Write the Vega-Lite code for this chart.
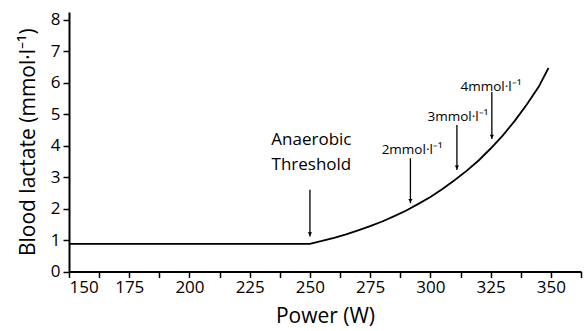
{
  "$schema": "https://vega.github.io/schema/vega-lite/v6.json",
  "width": 512,
  "height": 259.5,
  "autosize": {"type": "none"},
  "padding": {"left": 69, "top": 12, "right": 3, "bottom": 60},
  "config": {
    "view": {"stroke": null},
    "font": "Open Sans",
    "axis": {
      "grid": false,
      "domainColor": "#000",
      "domainWidth": 2,
      "tickColor": "#000",
      "tickWidth": 1.5,
      "tickSize": 6,
      "labelColor": "#000",
      "titleColor": "#000",
      "labelFont": "Open Sans",
      "titleFont": "Open Sans",
      "labelFontSize": 17,
      "titleFontSize": 21,
      "titleFontWeight": "normal",
      "labelOverlap": false
    }
  },
  "datasets": {
    "curve": [
      {"power": 150, "lactate": 0.88},
      {"power": 250, "lactate": 0.88},
      {"power": 255, "lactate": 0.97},
      {"power": 260, "lactate": 1.07},
      {"power": 265, "lactate": 1.18},
      {"power": 270, "lactate": 1.31},
      {"power": 275, "lactate": 1.44},
      {"power": 280, "lactate": 1.59},
      {"power": 285, "lactate": 1.76},
      {"power": 290, "lactate": 1.94},
      {"power": 295, "lactate": 2.15},
      {"power": 300, "lactate": 2.37},
      {"power": 305, "lactate": 2.62},
      {"power": 310, "lactate": 2.9},
      {"power": 315, "lactate": 3.2},
      {"power": 320, "lactate": 3.53},
      {"power": 325, "lactate": 3.91},
      {"power": 330, "lactate": 4.32},
      {"power": 335, "lactate": 4.79},
      {"power": 340, "lactate": 5.31},
      {"power": 345, "lactate": 5.88},
      {"power": 349, "lactate": 6.47}
    ],
    "arrows": [
      {"power": 250, "top": 2.6, "tip": 1.11},
      {"power": 291.7, "top": 3.6, "tip": 2.17},
      {"power": 311, "top": 4.66, "tip": 3.23},
      {"power": 325.5, "top": 5.71, "tip": 4.21}
    ],
    "labels": [
      {"power": 250.6, "lactate": 4.03, "text": "Anaerobic", "size": "big"},
      {"power": 250.6, "lactate": 3.23, "text": "Threshold", "size": "big"},
      {"power": 292.4, "lactate": 3.73, "text": "2mmol·l⁻¹", "size": "small"},
      {"power": 311.4, "lactate": 4.79, "text": "3mmol·l⁻¹", "size": "small"},
      {"power": 325.1, "lactate": 5.75, "text": "4mmol·l⁻¹", "size": "small"}
    ]
  },
  "layer": [
    {
      "data": {"name": "curve"},
      "mark": {"type": "line", "color": "#000", "strokeWidth": 1.8},
      "encoding": {
        "x": {
          "field": "power", "type": "quantitative",
          "scale": {"domain": [150, 362.5], "nice": false, "zero": false},
          "axis": {
            "title": "Power (W)",
            "values": [150, 162.5, 175, 187.5, 200, 212.5, 225, 237.5, 250, 262.5, 275, 287.5, 300, 312.5, 325, 337.5, 350, 362.5],
            "labelExpr": "datum.value % 25 === 0 && datum.value <= 350 ? datum.label : ''",
            "labelOverlap": false,
            "labelPadding": 2,
            "titlePadding": 10
          }
        },
        "y": {
          "field": "lactate", "type": "quantitative",
          "scale": {"domain": [0, 8.25], "nice": false},
          "axis": {
            "title": "Blood lactate (mmol·l⁻¹)",
            "values": [0, 1, 2, 3, 4, 5, 6, 7, 8],
            "tickCount": 9,
            "labelOverlap": false,
            "labelPadding": 3,
            "titlePadding": 12
          }
        }
      }
    },
    {
      "data": {"name": "arrows"},
      "mark": {"type": "rule", "color": "#000", "strokeWidth": 1.3},
      "encoding": {
        "x": {"field": "power", "type": "quantitative",
          "axis": {
            "title": "Power (W)",
            "values": [150, 162.5, 175, 187.5, 200, 212.5, 225, 237.5, 250, 262.5, 275, 287.5, 300, 312.5, 325, 337.5, 350, 362.5],
            "labelExpr": "datum.value % 25 === 0 && datum.value <= 350 ? datum.label : ''",
            "labelOverlap": false,
            "labelPadding": 2,
            "titlePadding": 10
          }},
        "y": {"field": "top", "type": "quantitative",
          "axis": {
            "title": "Blood lactate (mmol·l⁻¹)",
            "values": [0, 1, 2, 3, 4, 5, 6, 7, 8],
            "tickCount": 9,
            "labelOverlap": false,
            "labelPadding": 3,
            "titlePadding": 12
          }},
        "y2": {"field": "tip"}
      }
    },
    {
      "data": {"name": "arrows"},
      "mark": {"type": "point", "shape": "triangle-down", "filled": true, "color": "#000", "size": 18, "yOffset": -2.5, "opacity": 1},
      "encoding": {
        "x": {"field": "power", "type": "quantitative",
          "axis": {
            "title": "Power (W)",
            "values": [150, 162.5, 175, 187.5, 200, 212.5, 225, 237.5, 250, 262.5, 275, 287.5, 300, 312.5, 325, 337.5, 350, 362.5],
            "labelExpr": "datum.value % 25 === 0 && datum.value <= 350 ? datum.label : ''",
            "labelOverlap": false,
            "labelPadding": 2,
            "titlePadding": 10
          }},
        "y": {"field": "tip", "type": "quantitative",
          "axis": {
            "title": "Blood lactate (mmol·l⁻¹)",
            "values": [0, 1, 2, 3, 4, 5, 6, 7, 8],
            "tickCount": 9,
            "labelOverlap": false,
            "labelPadding": 3,
            "titlePadding": 12
          }}
      }
    },
    {
      "data": {"name": "labels"},
      "mark": {"type": "text", "color": "#000", "align": "center", "baseline": "alphabetic", "font": "Open Sans"},
      "encoding": {
        "x": {"field": "power", "type": "quantitative",
          "axis": {
            "title": "Power (W)",
            "values": [150, 162.5, 175, 187.5, 200, 212.5, 225, 237.5, 250, 262.5, 275, 287.5, 300, 312.5, 325, 337.5, 350, 362.5],
            "labelExpr": "datum.value % 25 === 0 && datum.value <= 350 ? datum.label : ''",
            "labelOverlap": false,
            "labelPadding": 2,
            "titlePadding": 10
          }},
        "y": {"field": "lactate", "type": "quantitative",
          "axis": {
            "title": "Blood lactate (mmol·l⁻¹)",
            "values": [0, 1, 2, 3, 4, 5, 6, 7, 8],
            "tickCount": 9,
            "labelOverlap": false,
            "labelPadding": 3,
            "titlePadding": 12
          }},
        "text": {"field": "text"},
        "size": {"field": "size", "type": "nominal", "scale": {"domain": ["big", "small"], "range": [17, 13.5]}, "legend": null}
      }
    }
  ]
}
